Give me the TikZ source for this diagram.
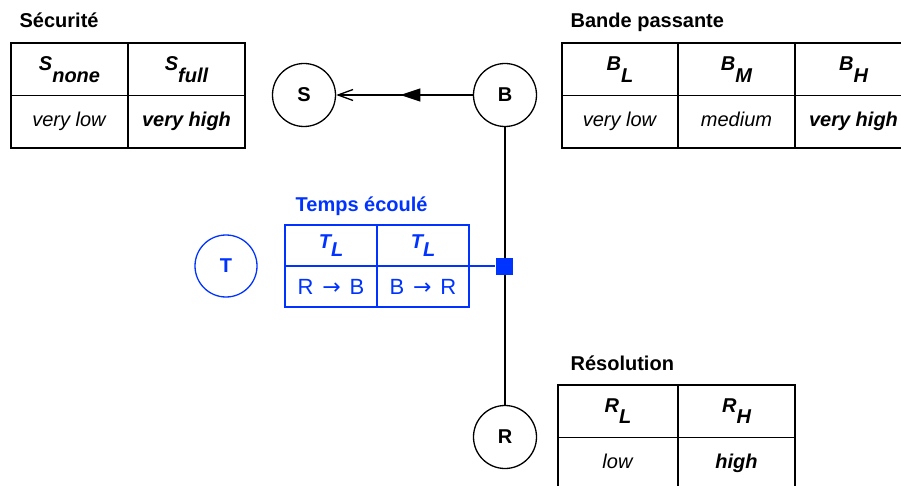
\documentclass[tikz,border=0pt]{standalone}
\usepackage{fontspec}
\setmainfont{Liberation Sans}
\newfontfamily\arrowfont{DejaVu Sans}
\usepackage{tikz}
\usetikzlibrary{arrows.meta,decorations.markings}
\definecolor{timeblue}{RGB}{0,51,255}
\newcommand{\paramsub}[3][0.6em]{\textbf{\textit{#2\raisebox{-#1}{#3}}}}
\newcommand{\dirto}[2]{#1\hspace{0.4em}{\arrowfont →}\hspace{0.4em}#2}
\newcommand{\paramcol}[6]{%
  \node[cell,#6,anchor=north west] (#1h) at (#2,#3) {#4};%
  \node[cell,#6,valrow,anchor=north west] (#1v) at (#1h.south west) {#5};%
}

\begin{document}
\begin{tikzpicture}[x=1pt,y=-1pt,line width=1.3pt,
    font=\fontsize{20}{24}\selectfont,
    cell/.style={draw,rectangle,inner sep=0pt,outer sep=0pt,minimum width=117pt,minimum height=52.5pt},
    valrow/.style={text height=14pt,text depth=4pt},
    tcell/.style={cell,draw=timeblue,text=timeblue,minimum width=92pt,minimum height=41pt,
      valrow/.style={text height=16pt,text depth=0pt,font=\fontsize{22}{26}\selectfont}},
    var/.style={draw,circle,inner sep=0pt,minimum size=63pt,font=\fontsize{20}{24}\selectfont\bfseries},
    title/.style={anchor=base west,inner sep=0pt,font=\fontsize{20}{24}\selectfont\bfseries},
    midtip/.style={postaction={decorate},decoration={markings,
      mark=at position 0.53 with {\arrow{Triangle[length=20pt,width=13pt]}}}}]
  \useasboundingbox (0,0) rectangle (901,486);
  \clip (0,0) rectangle (901,486);
  \node[var] (S) at (304,95) {S};
  \node[var] (B) at (505,95) {B};
  \node[var] (R) at (505,437) {R};
  \node[var,draw=timeblue,text=timeblue,minimum size=62pt] (T) at (226,266) {T};
  \node[title] (sectitle) at (19,28) {Sécurité};
  \paramcol{sn}{11}{43}{\paramsub{S}{none}}{\textit{very low}}{}
  \paramcol{sf}{128}{43}{\paramsub{S}{full}}{\textbf{\textit{very high}}}{}
  \node[title] (bwtitle) at (570,28) {Bande passante};
  \paramcol{bl}{562}{43}{\paramsub{B}{L}}{\textit{very low}}{minimum width=116pt}
  \paramcol{bm}{678}{43}{\paramsub{B}{M}}{\textit{medium}}{}
  \paramcol{bh}{795}{43}{\paramsub{B}{H}}{\textbf{\textit{very high}}}{}
  \node[title] (restitle) at (570,370) {Résolution};
  \paramcol{rl}{558}{385}{\paramsub[0.55em]{R}{L}}{\textit{low}}{minimum width=120pt}
  \paramcol{rh}{678}{385}{\paramsub[0.55em]{R}{H}}{\textbf{\textit{high}}}{}
  \node[title,text=timeblue] (ttitle) at (295,212) {Temps écoulé};
  \paramcol{ta}{285}{225}{\paramsub[0.4em]{T}{L}}{\dirto{R}{B}}{tcell}
  \paramcol{tb}{377}{225}{\paramsub[0.4em]{T}{L}}{\dirto{B}{R}}{tcell}
  \draw[midtip,-{Straight Barb[length=15pt,width=11pt]}] (B) -- (S);
  \draw (B) -- (R);
  \node[fill=timeblue,inner sep=0pt,minimum size=17pt] (J) at (504.5,266) {};
  \draw[timeblue] (tbh.south east) -- (J);
\end{tikzpicture}
\end{document}
